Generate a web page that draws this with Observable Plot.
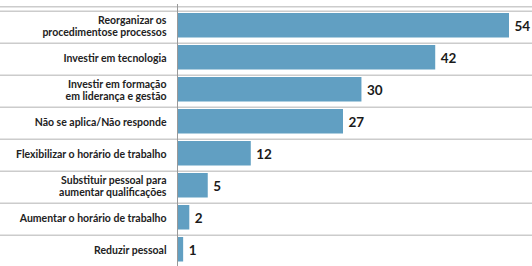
<!DOCTYPE html>
<html>
<head>
<meta charset="utf-8">
<script src="https://cdn.jsdelivr.net/npm/d3@7"></script>
<script src="https://cdn.jsdelivr.net/npm/@observablehq/plot@0.6"></script>
<style>
  html, body { margin: 0; padding: 0; background: #ffffff; }
  #chart svg { display: block; }
</style>
</head>
<body>
<div id="chart"></div>
<script>
const categories = [
  "Reorganizar os\nprocedimentose processos",
  "Investir em tecnologia",
  "Investir em formação\nem liderança e gestão",
  "Não se aplica/Não responde",
  "Flexibilizar o horário de trabalho",
  "Substituir pessoal para\naumentar qualificações",
  "Aumentar o horário de trabalho",
  "Reduzir pessoal"
];
const values = [54, 42, 30, 27, 12, 5, 2, 1];

const data = categories.map((c, i) => ({label: c, value: values[i]}));

const yRange = [8.5, 268.5];
const bw = (yRange[1] - yRange[0]) / categories.length;

const chart = Plot.plot({
  width: 532,
  height: 266,
  marginTop: 4,
  marginBottom: 0,
  marginLeft: 0,
  marginRight: 0,
  x: {domain: [0, 54], range: [177, 509], axis: null},
  y: {domain: categories, range: yRange, padding: 0, axis: null},
  style: {fontFamily: "Lato, 'Open Sans', sans-serif", background: "#ffffff"},
  marks: [
    Plot.ruleY(categories, {dy: -bw / 2, stroke: "#cccccc", strokeWidth: 1.5}),
    Plot.ruleY(categories.slice(0, 1), {dy: -bw / 2 - 4.5, stroke: "#cccccc", strokeWidth: 1.5}),
    Plot.barX(data, {x: "value", y: "label", fill: "#619fc2", insetTop: 2, insetBottom: 5.5}),
    Plot.ruleX([0], {stroke: "#999999", strokeWidth: 1}),
    Plot.text(data, {
      x: () => 0, y: "label", text: "label",
      textAnchor: "end", dx: -11, dy: -1,
      fontSize: 10.5, fontWeight: 700, fill: "#222222", lineHeight: 1.12
    }),
    Plot.text(data, {
      x: "value", y: "label", text: d => String(d.value),
      textAnchor: "start", dx: 5, dy: -1,
      fontSize: 13.5, fontWeight: 700, fill: "#1a1a1a"
    })
  ]
});
document.getElementById("chart").append(chart);
</script>
</body>
</html>
